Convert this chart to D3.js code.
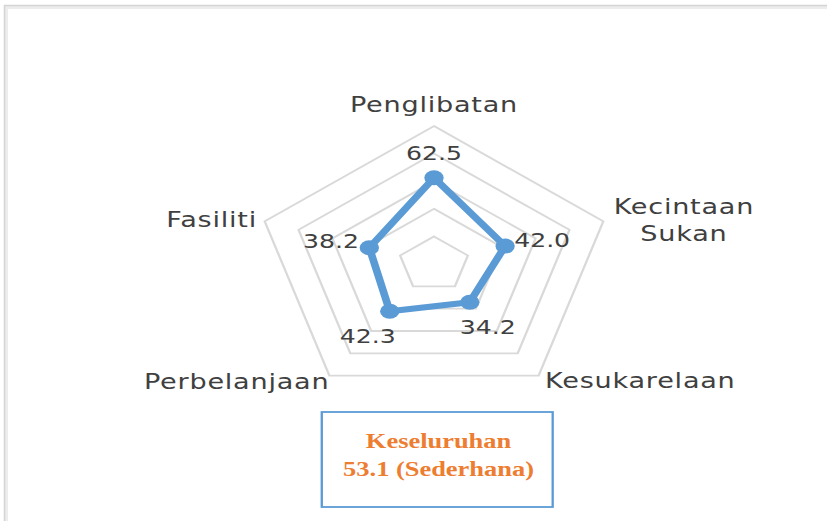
<!DOCTYPE html>
<html>
<head>
<meta charset="utf-8">
<script src="https://cdn.jsdelivr.net/npm/d3@7"></script>
<style>
  body { margin: 0; background: #fff; }
  svg { display: block; }
</style>
</head>
<body>
<div id="chart"></div>
<script>
// data
var axisNames = ["Penglibatan", "Kecintaan Sukan", "Kesukarelaan", "Perbelanjaan", "Fasiliti"];
var axisLines = [["Penglibatan"], ["Kecintaan", "Sukan"], ["Kesukarelaan"], ["Perbelanjaan"], ["Fasiliti"]];
var scores = [62.5, 42.0, 34.2, 42.3, 38.2];
var ringTicks = [20, 40, 60, 80, 100];
var summaryLines = ["Keseluruhan", "53.1 (Sederhana)"];

var size = {
  width: 827,
  height: 521,
  cx: 434,
  cy: 264,
  radius: 138,
  stretch: 1.29
};

// where labels sit, relative to vertex / point (unstretched units)
var axisLabelPos = [
  {dx: 0, dy: -14, anchor: "middle"},
  {dx: 8, dy: -7, anchor: "start"},
  {dx: 5, dy: 12.5, anchor: "start"},
  {dx: 0, dy: 13.5, anchor: "end"},
  {dx: -6, dy: 6, anchor: "end"}
];
var valueLabelPos = [
  {dx: 0, dy: -18, anchor: "middle"},
  {dx: 7, dy: 1, anchor: "start"},
  {dx: 14, dy: 32, anchor: "middle"},
  {dx: -17, dy: 32, anchor: "middle"},
  {dx: -8, dy: 0, anchor: "end"}
];

var rScale = d3.scaleLinear().domain([0, 100]).range([0, size.radius]);
var step = 2 * Math.PI / axisNames.length;

var px = function(i, v) { return rScale(v) * Math.sin(i * step); };
var py = function(i, v) { return -rScale(v) * Math.cos(i * step); };

var svg = d3.select("#chart")
  .append("svg")
  .attr("width", size.width)
  .attr("height", size.height);

// outer frame of the pasted chart
svg.append("rect")
  .attr("x", 6.5).attr("y", 7.5)
  .attr("width", 900).attr("height", 600)
  .attr("fill", "none")
  .attr("stroke", "#ececec")
  .attr("stroke-width", 3);
svg.append("rect")
  .attr("x", 4.5).attr("y", 5.5)
  .attr("width", 900).attr("height", 600)
  .attr("fill", "none")
  .attr("stroke", "#d4d4d4")
  .attr("stroke-width", 1.5);

var g = svg.append("g")
  .attr("transform", "translate(" + size.cx + "," + size.cy + ") scale(" + size.stretch + ",1)");

var ringLine = d3.lineRadial()
  .angle(function(d, i) { return i * step; })
  .radius(function(d) { return rScale(d); })
  .curve(d3.curveLinearClosed);

g.selectAll(".ring")
  .data(ringTicks)
  .enter()
  .append("path")
  .attr("class", "ring")
  .attr("d", function(t) { return ringLine(axisNames.map(function() { return t; })); })
  .attr("fill", "none")
  .attr("stroke", "#d9d9d9")
  .attr("stroke-width", 1.8);

// axis names
var maxTick = d3.max(ringTicks);
g.selectAll(".axis-label")
  .data(axisLines)
  .enter()
  .append("text")
  .attr("class", "axis-label")
  .attr("font-family", "DejaVu Sans, sans-serif")
  .attr("font-size", 21)
  .attr("letter-spacing", 0.6)
  .attr("fill", "#404040")
  .attr("text-anchor", "middle")
  .each(function(lines, i) {
    var t = d3.select(this);
    lines.forEach(function(s, k) {
      t.append("tspan").attr("x", 0).attr("y", k * 27).text(s);
    });
    var box = this.getBBox();
    var p = axisLabelPos[i];
    var vx = px(i, maxTick) + p.dx;
    var vy = py(i, maxTick) + p.dy;
    var tx = vx;
    if (p.anchor == "start") tx = vx - box.x;
    if (p.anchor == "end") tx = vx - (box.x + box.width);
    t.attr("transform", "translate(" + tx + "," + vy + ")");
  });

// series
var scoreLine = d3.lineRadial()
  .angle(function(d, i) { return i * step; })
  .radius(function(d) { return rScale(d); })
  .curve(d3.curveLinearClosed);

g.append("path")
  .attr("d", scoreLine(scores))
  .attr("fill", "none")
  .attr("stroke", "#5b9bd5")
  .attr("stroke-width", 6)
  .attr("stroke-linejoin", "round");

g.selectAll(".dot")
  .data(scores)
  .enter()
  .append("circle")
  .attr("class", "dot")
  .attr("cx", function(d, i) { return px(i, d); })
  .attr("cy", function(d, i) { return py(i, d); })
  .attr("r", 7.5)
  .attr("fill", "#5b9bd5");

g.selectAll(".value")
  .data(scores)
  .enter()
  .append("text")
  .attr("class", "value")
  .attr("x", function(d, i) { return px(i, d) + valueLabelPos[i].dx; })
  .attr("y", function(d, i) { return py(i, d) + valueLabelPos[i].dy; })
  .attr("text-anchor", function(d, i) { return valueLabelPos[i].anchor; })
  .attr("font-family", "DejaVu Sans, sans-serif")
  .attr("font-size", 19.5)
  .attr("fill", "#404040")
  .text(function(d) { return d.toFixed(1); });

// summary box
g.append("rect")
  .attr("x", -87).attr("y", 148)
  .attr("width", 179).attr("height", 95)
  .attr("fill", "#fff")
  .attr("stroke", "#5b9bd5")
  .attr("stroke-width", 1.8);

g.selectAll(".summary")
  .data(summaryLines)
  .enter()
  .append("text")
  .attr("class", "summary")
  .attr("x", 3.5)
  .attr("y", function(d, i) { return 184 + i * 28; })
  .attr("text-anchor", "middle")
  .attr("font-family", "Liberation Serif, Times New Roman, serif")
  .attr("font-weight", "bold")
  .attr("font-size", 20.5)
  .attr("fill", "#ed7d31")
  .text(function(d) { return d; });
</script>
</body>
</html>
